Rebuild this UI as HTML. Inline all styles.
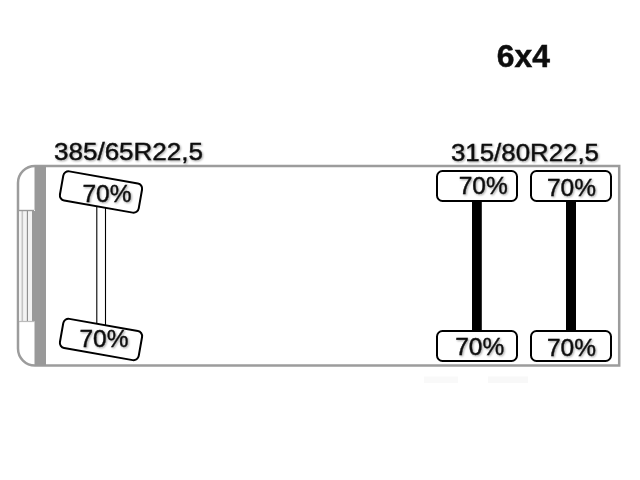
<!DOCTYPE html>
<html><head><meta charset="utf-8">
<style>
html,body{margin:0;padding:0;background:#fff;}
body{width:640px;height:480px;overflow:hidden;font-family:"Liberation Sans",sans-serif;}
svg{display:block;}
text{font-family:"Liberation Sans",sans-serif;fill:#111;stroke:#111;stroke-width:0.42px;}
</style></head><body>
<svg width="640" height="480" viewBox="0 0 640 480">
<defs>
<filter id="glow" x="-10%" y="-30%" width="120%" height="160%">
<feGaussianBlur in="SourceAlpha" stdDeviation="1.3" result="b"/>
<feOffset in="b" dx="0.6" dy="0.8" result="o"/>
<feComponentTransfer in="o" result="sh"><feFuncA type="linear" slope="0.38"/></feComponentTransfer>
<feGaussianBlur in="SourceGraphic" stdDeviation="0.35" result="t"/>
<feMerge><feMergeNode in="sh"/><feMergeNode in="t"/></feMerge>
</filter>
<filter id="soft"><feGaussianBlur stdDeviation="0.4"/></filter>
</defs>
<rect width="640" height="480" fill="#fff"/>
<g filter="url(#soft)">
<!-- body outline -->
<path d="M619.2 166 H35 A17 17 0 0 0 18 183 V348.6 A17 17 0 0 0 35 365.6 H619.2 Z" fill="#fff" stroke="#9c9c9c" stroke-width="2.5"/>
<!-- gray band -->
<rect x="34.5" y="166" width="11.5" height="199.6" fill="#999"/>
<!-- grille -->
<rect x="19" y="210" width="16" height="111.5" fill="#f3f3f3"/>
<rect x="32" y="211" width="3" height="110.5" fill="#999"/>
<path d="M22.3 211V321" stroke="#c4c4c4" stroke-width="1.6"/>
<path d="M27.4 211V321" stroke="#8c8c8c" stroke-width="1.1"/>
<path d="M19 210.5H34" stroke="#999" stroke-width="1.4"/>
<path d="M19 321.5H34" stroke="#bbb" stroke-width="1.2"/>
<rect x="424" y="376.5" width="34" height="6.5" fill="#f9f9f9"/><rect x="488" y="376.5" width="40" height="6.5" fill="#f8f8f8"/>
<!-- front axle -->
<path d="M96.8 200V330M105.5 200V330" stroke="#000" stroke-width="1.1"/>
<!-- front tires -->
<g transform="translate(101 192) rotate(10)"><rect x="-40" y="-14.8" width="80" height="29.6" rx="5.2" fill="#fff" stroke="#000" stroke-width="2"/></g>
<g transform="translate(101 339.5) rotate(10)"><rect x="-40" y="-14.8" width="80" height="29.6" rx="5.2" fill="#fff" stroke="#000" stroke-width="2"/></g>
<!-- rear axles -->
<rect x="472" y="200" width="9.8" height="132" fill="#000"/>
<rect x="566" y="200" width="10" height="132" fill="#000"/>
<!-- rear tires -->
<rect x="437" y="171" width="80" height="30" rx="5.5" fill="#fff" stroke="#000" stroke-width="2"/>
<rect x="531" y="171" width="80" height="30" rx="5.5" fill="#fff" stroke="#000" stroke-width="2"/>
<rect x="437" y="331" width="80" height="30" rx="5.5" fill="#fff" stroke="#000" stroke-width="2"/>
<rect x="531" y="331" width="80" height="30" rx="5.5" fill="#fff" stroke="#000" stroke-width="2"/>
</g>
<!-- text -->
<g filter="url(#soft)"><text x="496.8" y="66.7" font-size="32" font-weight="bold" textLength="53.2" lengthAdjust="spacingAndGlyphs" style="stroke-width:0.5px">6x4</text></g>
<g filter="url(#glow)">
<text x="54" y="160.2" font-size="23.5" textLength="149" lengthAdjust="spacingAndGlyphs">385/65R22,5</text>
<text x="451" y="161.2" font-size="23.5" textLength="148" lengthAdjust="spacingAndGlyphs">315/80R22,5</text>
<text x="82.5" y="201.7" font-size="24.5" textLength="49" lengthAdjust="spacingAndGlyphs">70%</text>
<text x="79.5" y="347.2" font-size="24.5" textLength="49" lengthAdjust="spacingAndGlyphs">70%</text>
<text x="458.7" y="194.4" font-size="24.5" textLength="49" lengthAdjust="spacingAndGlyphs">70%</text>
<text x="547" y="195.6" font-size="24.5" textLength="49" lengthAdjust="spacingAndGlyphs">70%</text>
<text x="455.2" y="355.2" font-size="24.5" textLength="49" lengthAdjust="spacingAndGlyphs">70%</text>
<text x="547" y="356.4" font-size="24.5" textLength="49" lengthAdjust="spacingAndGlyphs">70%</text>
</g>
</svg>
</body></html>
